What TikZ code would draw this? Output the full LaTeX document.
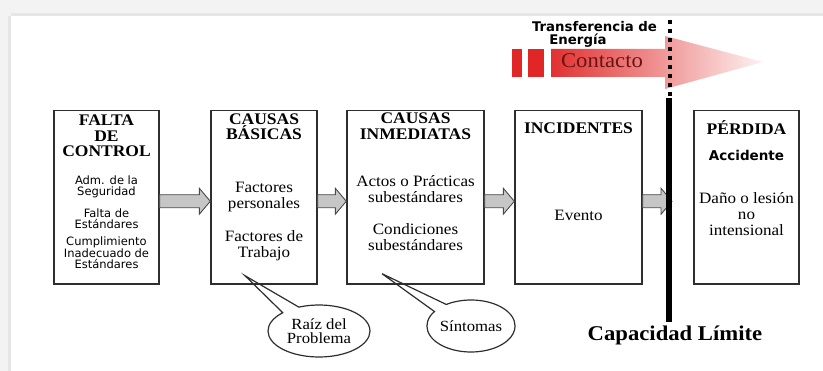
\documentclass[tikz,border=0pt]{standalone}
\usepackage{fontspec}
\setmainfont{Liberation Serif}[FakeStretch=1.08]
\newfontfamily\dvs{DejaVu Sans}
\usetikzlibrary{shapes.callouts,calc}
\definecolor{boxline}{HTML}{2E2E2E}
\definecolor{arrowfill}{HTML}{C6C6C6}
\definecolor{arrowline}{HTML}{4A4A4A}
\definecolor{cred}{HTML}{E02626}
\definecolor{ctext}{HTML}{6A1414}
\definecolor{bggray}{HTML}{F3F3F3}
\definecolor{bgline}{HTML}{E6E6E6}
\newcommand\blkarrow[2]{%
  \draw[blk] let \p1=(#1), \p2=(#2) in
    (\x1,\y1+6.5pt) -- (\x2-11pt,\y1+6.5pt) -- (\x2-11pt,\y1+13pt) -- (\x2,\y1)
    -- (\x2-11pt,\y1-13pt) -- (\x2-11pt,\y1-6.5pt) -- (\x1,\y1-6.5pt) -- cycle;}
\begin{document}
\begin{tikzpicture}[x=1pt,y=-1pt,
  box/.style={draw=boxline, line width=1.4pt, inner sep=0pt, minimum height=173.5pt},
  blk/.style={fill=arrowfill, draw=arrowline, line width=0.9pt},
  ttl/.style={font=\fontsize{16.2}{15.5}\selectfont\bfseries, align=center, inner sep=0pt},
  body/.style={font=\fontsize{15.8}{16}\selectfont, align=center, inner sep=0pt},
  sans/.style={font=\dvs\fontsize{11.5}{10.5}\selectfont, align=center, inner sep=0pt},
  bubble/.style={ellipse callout, draw=boxline, line width=1.2pt, inner sep=0pt,
    callout pointer arc=22, font=\fontsize{15.5}{14}\selectfont, align=center}]
\useasboundingbox (0,0) rectangle (823,371);
\fill[white] (0,0) rectangle (823,371);
% frame of the screenshot
\fill[bggray] (0,0) rectangle (823,16);
\fill[bggray] (0,0) rectangle (11,371);
\fill[bgline] (11,13) rectangle (823,16);
\fill[bgline] (8,16) rectangle (11,371);
% energy transfer arrow
\fill[cred] (512,49) rectangle (522,77);
\fill[cred] (528,49) rectangle (544,77);
\shade[left color=cred!95!white, middle color=cred!52!white, right color=cred!6!white]
  (551,49) -- (665,49) -- (665,36) -- (763,62) -- (665,89) -- (665,77) -- (551,77) -- cycle;
\node[font=\fontsize{21}{20}\selectfont, text=ctext, inner sep=0pt] (cont) at (602,61) {Contacto};
\node[font=\dvs\bfseries\fontsize{13.3}{12}\selectfont, inner sep=0pt] (tr1) at (594.5,27) {Transferencia de};
\node[font=\dvs\bfseries\fontsize{13.3}{12}\selectfont, inner sep=0pt] (tr2) at (578,41) {Energía};
\draw[line width=4pt, dash pattern=on 4pt off 5pt] (670,20) -- (670,98);
% boxes
\node[box, minimum width=105pt] (b1) at (106.5,197.25) {};
\node[box, minimum width=106pt] (b2) at (264,197.25) {};
\node[box, minimum width=137pt] (b3) at (415.5,197.25) {};
\node[box, minimum width=127pt] (b4) at (578.5,197.25) {};
\node[box, minimum width=105pt] (b5) at (746.5,197.25) {};
% limit line
\coordinate (limtop) at (669,98);
\coordinate (limbot) at (669,322);
% block arrows
\blkarrow{$(b1.east)+(0,4)$}{$(b2.west)+(0,4)$}
\blkarrow{$(b2.east)+(0,4)$}{$(b3.west)+(0,4)$}
\blkarrow{$(b3.east)+(0,4)$}{$(b4.west)+(0,4)$}
\blkarrow{$(b4.east)+(0,4)$}{$(b4.east -| limtop)+(3,4)$}
\draw[line width=6pt] (limtop) -- (limbot);
% box texts
\node[ttl] (t1) at (106.5,136) {FALTA\\DE\\CONTROL};
\node[sans] (s1) at (106.5,187) {Adm. de la\\Seguridad};
\node[sans] (s2) at (106.5,218.5) {Falta de\\Estándares};
\node[sans] (s3) at (106.5,252.5) {Cumplimiento\\Inadecuado de\\Estándares};
\node[ttl] (t2) at (264,126.5) {CAUSAS\\BÁSICAS};
\node[body] (p2a) at (264,197.5) {Factores\\personales};
\node[body] (p2b) at (264,245.5) {Factores de\\Trabajo};
\node[ttl] (t3) at (415.5,126) {CAUSAS\\INMEDIATAS};
\node[body] (p3a) at (415.5,189) {Actos o Prácticas\\subestándares};
\node[body] (p3b) at (415.5,237) {Condiciones\\subestándares};
\node[ttl] (t4) at (578.5,128) {INCIDENTES};
\node[body] (p4) at (578.5,215) {Evento};
\node[ttl] (t5) at (746.5,128) {PÉRDIDA};
\node[font=\dvs\bfseries\fontsize{13.5}{13.5}\selectfont, inner sep=0pt] (acc) at (746.5,155) {Accidente};
\node[body] (p5) at (746.5,214.5) {Daño o lesión\\no\\intensional};
% callouts
\node[bubble, minimum width=102pt, minimum height=52pt,
  callout absolute pointer={($(b2.south)+(-19,-9)$)}] (raiz) at (319,331) {Raíz del\\Problema};
\node[bubble, minimum width=88pt, minimum height=52pt,
  callout absolute pointer={($(b3.south)+(-33.5,-11)$)}] (sint) at (471,326) {Síntomas};
\node[font=\fontsize{21}{20}\selectfont\bfseries, inner sep=0pt] (cap) at (675,335) {Capacidad Límite};
\end{tikzpicture}
\end{document}
